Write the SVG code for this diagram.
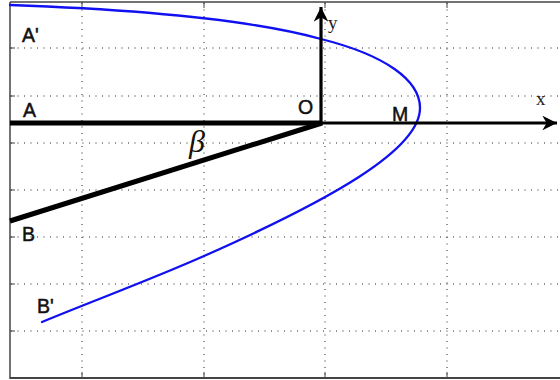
<svg xmlns="http://www.w3.org/2000/svg" width="560" height="380" viewBox="0 0 560 380">
<style>
.grid{stroke:#222;stroke-width:1;stroke-dasharray:1 5.5;fill:none}
.frame{stroke:#444;fill:none}
.tick{stroke:#444;stroke-width:1}
.lbl{font-family:"Liberation Sans",Arial,sans-serif;font-size:19.5px;fill:#111;stroke:#111;stroke-width:0.5}
.ax{font-family:"Liberation Serif","Times New Roman",serif;font-size:19px;fill:#222}
.curve{stroke:#1010f0;stroke-width:2.3;fill:none;stroke-linecap:round}
.thick{stroke:#000;stroke-width:5;stroke-linecap:butt}
.axis{stroke:#000;stroke-width:3.2}
</style>
<defs>
<marker id="arr" viewBox="0 0 10 10" refX="10" refY="5" markerWidth="6" markerHeight="4.6" markerUnits="strokeWidth" orient="auto">
<path d="M0,0 L10,5 L0,10 L3,5 Z" fill="#000"/>
</marker>
</defs>
<rect width="560" height="380" fill="#fff"/>
<g id="grid">
<line class="grid" x1="82" y1="3" x2="82" y2="377"/>
<line class="grid" x1="204" y1="3" x2="204" y2="377"/>
<line class="grid" x1="325" y1="3" x2="325" y2="377"/>
<line class="grid" x1="447" y1="3" x2="447" y2="377"/>
<line class="grid" x1="11" y1="48" x2="560" y2="48"/>
<line class="grid" x1="11" y1="96" x2="560" y2="96"/>
<line class="grid" x1="11" y1="143" x2="560" y2="143"/>
<line class="grid" x1="11" y1="190" x2="560" y2="190"/>
<line class="grid" x1="11" y1="237" x2="560" y2="237"/>
<line class="grid" x1="11" y1="284" x2="560" y2="284"/>
<line class="grid" x1="11" y1="331" x2="560" y2="331"/>
</g>
<g id="frame">
<line class="frame" stroke-width="1.3" x1="10" y1="2" x2="560" y2="2"/>
<line class="frame" stroke-width="1.5" x1="10" y1="2" x2="10" y2="379"/>
<line class="frame" stroke-width="2" x1="10" y1="378" x2="560" y2="378"/>
<line class="tick" x1="82" y1="2" x2="82" y2="8"/>
<line class="tick" x1="204" y1="2" x2="204" y2="8"/>
<line class="tick" x1="325" y1="2" x2="325" y2="8"/>
<line class="tick" x1="447" y1="2" x2="447" y2="8"/>
<line class="tick" x1="82" y1="378" x2="82" y2="372"/>
<line class="tick" x1="204" y1="378" x2="204" y2="372"/>
<line class="tick" x1="325" y1="378" x2="325" y2="372"/>
<line class="tick" x1="447" y1="378" x2="447" y2="372"/>
<line class="tick" x1="10" y1="48" x2="15" y2="48"/>
<line class="tick" x1="10" y1="96" x2="15" y2="96"/>
<line class="tick" x1="10" y1="143" x2="15" y2="143"/>
<line class="tick" x1="10" y1="190" x2="15" y2="190"/>
<line class="tick" x1="10" y1="237" x2="15" y2="237"/>
<line class="tick" x1="10" y1="284" x2="15" y2="284"/>
<line class="tick" x1="10" y1="331" x2="15" y2="331"/>
</g>
<g id="curve">
<path class="curve" d="M10,5 C150,10 260,22 321,39 C385,55 420,80 420,108 C420,150 330,200 204,256 C150,280 90,302 42,322"/>
</g>
<g id="connectors">
<line class="thick" x1="10" y1="123" x2="322" y2="123"/>
<line class="thick" x1="322" y1="123" x2="10" y2="221"/>
<line class="axis" x1="320" y1="123" x2="557" y2="123" marker-end="url(#arr)"/>
<line class="axis" x1="321" y1="125" x2="321" y2="7" marker-end="url(#arr)"/>
</g>
<g id="labels">
<text class="lbl" x="22" y="42">A'</text>
<text class="lbl" x="23" y="117">A</text>
<text class="lbl" x="298" y="114">O</text>
<text class="lbl" x="392" y="121">M</text>
<text class="lbl" x="22" y="241">B</text>
<text class="lbl" x="37" y="313">B'</text>
<text class="ax" x="536" y="105">x</text>
<text class="ax" x="328" y="29">y</text>
<text x="189" y="152" font-family="'Liberation Serif','Times New Roman',serif" font-style="italic" font-size="32" fill="#1a1208">β</text>
</g>
</svg>
